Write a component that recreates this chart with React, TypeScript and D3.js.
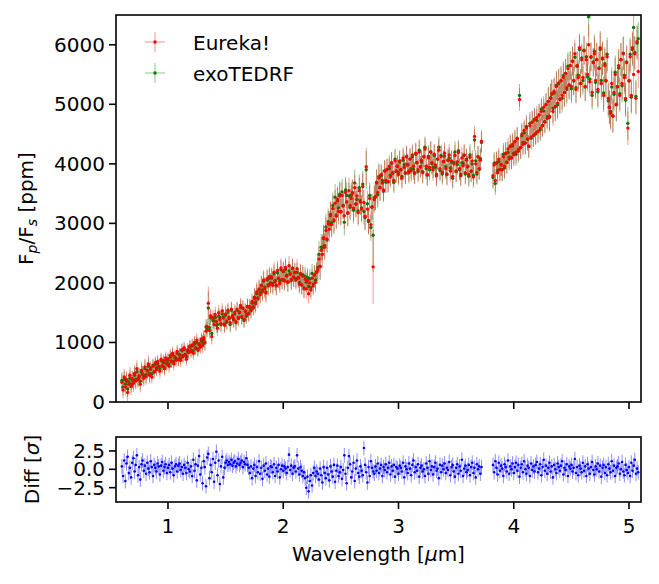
import React from "react";
import * as d3 from "d3";

// two detector segments, binned at 0.01 µm
const segStart = [0.6, 3.82];
const segCount = [313, 127];
const binHalfWidth = 0.005;

// planet-to-star flux, ppm
const eureka = [
  330, 200, 420, 250, 380, 160, 300, 450, 260, 390,
  310, 480, 350, 560, 380, 440, 300, 530, 470, 400,
  590, 430, 520, 640, 450, 570, 420, 600, 510, 660,
  540, 680, 600, 520, 720, 610, 690, 560, 740, 630,
  720, 600, 780, 680, 820, 640, 760, 700, 850, 710,
  800, 700, 880, 760, 910, 790, 720, 880, 830, 940,
  850, 960, 820, 1000, 900, 1040, 870, 980, 920, 1060,
  950, 1080, 1010, 1190, 1270, 1660, 1200, 1450, 1100, 1420,
  1300, 1470, 1350, 1240, 1500, 1380, 1320, 1530, 1410, 1290,
  1480, 1360, 1540, 1420, 1330, 1560, 1450, 1390, 1510, 1350,
  1560, 1420, 1510, 1620, 1440, 1580, 1390, 1530, 1470, 1610,
  1480, 1600, 1530, 1690, 1580, 1760, 1650, 1850, 1730, 1900,
  1800, 1960, 1850, 2050, 1900, 1830, 2070, 1950, 2110, 1980,
  2100, 1960, 2180, 2020, 1950, 2210, 2080, 1990, 2250, 2060,
  2200, 2030, 2260, 2110, 2020, 2290, 2150, 2060, 2240, 2100,
  2180, 2050, 2240, 2090, 1980, 2160, 1960, 2110, 1900, 2060,
  1900, 2040, 1820, 2000, 1880, 2080, 1950, 2140, 2010, 2180,
  2220, 2400, 2280, 2550, 2480, 2760, 2600, 2880, 2740, 2990,
  2900, 3150, 2980, 3250, 3060, 3340, 3120, 3400, 3200, 3460,
  3200, 3470, 3290, 3130, 3520, 3360, 3180, 3550, 3300, 3420,
  3500, 3260, 3600, 3330, 3460, 3180, 3550, 3380, 3240, 3620,
  3350, 3120, 3950, 3240, 3050, 3420, 2980, 3280, 2270, 3400,
  3450, 3680, 3520, 3760, 3600, 3820, 3680, 3560, 3880, 3720,
  3900, 3700, 3960, 3780, 4020, 3840, 3720, 4050, 3880, 3960,
  3820, 4050, 3900, 3760, 4100, 3940, 3850, 4120, 3980, 3880,
  4080, 3880, 4150, 3960, 3840, 4180, 4020, 3900, 4200, 3950,
  4060, 3850, 4120, 4250, 3960, 3820, 4100, 3940, 4200, 4020,
  3900, 4160, 3980, 3800, 4080, 4230, 3920, 4120, 3860, 4040,
  4180, 3920, 3830, 4060, 4150, 3880, 4050, 3790, 4000, 4140,
  3880, 4030, 4190, 3920, 3800, 4100, 3970, 4150, 3850, 4060,
  3950, 3820, 4110, 3880, 4050, 3780, 4460, 4000, 3860, 4120,
  3920, 4060, 4380,
  3800, 3980, 3720, 4020, 3850, 4080, 3900, 3990,
  3900, 4120, 3960, 4180, 4020, 4250, 4080, 4300, 4100, 4330,
  4150, 4380, 4200, 4420, 4240, 5080, 4280, 4500, 4330, 4560,
  4350, 4600, 4420, 4300, 4640, 4450, 4700, 4480, 4740, 4520,
  4780, 4540, 4820, 4600, 4880, 4650, 4950, 4700, 5000, 4760,
  5050, 4800, 5100, 5180, 4880, 5220, 4960, 5300, 5020, 5360,
  5080, 5400, 5150, 5450, 5200, 5520, 5280, 5600, 5330, 5650,
  5300, 5720, 5400, 5850, 5250, 5650, 5450, 5950, 5350, 5750,
  5450, 5900, 5300, 5750, 5500, 6000, 5380, 5800, 5200, 5700,
  5850, 5400, 5750, 5250, 5600, 5950, 5350, 5780, 5150, 5650,
  5400, 5800, 5100, 4950, 4850, 5350, 4800, 5200, 5500, 5000,
  5300, 5650, 5150, 5750, 5350, 5850, 5450, 5100, 5700, 4600,
  5400, 5800, 5150, 5950, 5500, 5850, 5100, 6050, 5550,
];

const exotedrf = [
  360, 250, 380, 300, 350, 220, 340, 400, 300, 370,
  350, 450, 380, 510, 400, 420, 350, 500, 460, 440,
  560, 460, 530, 600, 480, 550, 470, 620, 500, 630,
  570, 650, 590, 560, 690, 600, 660, 580, 700, 650,
  700, 640, 750, 690, 790, 680, 740, 730, 820, 720,
  790, 740, 860, 780, 880, 800, 760, 850, 840, 920,
  870, 940, 860, 970, 910, 1000, 890, 960, 940, 1030,
  1000, 1050, 990, 1260, 1220, 1580, 1250, 1410, 1150, 1370,
  1360, 1420, 1290, 1300, 1440, 1420, 1300, 1480, 1430, 1310,
  1460, 1340, 1510, 1400, 1300, 1540, 1420, 1380, 1480, 1330,
  1540, 1400, 1500, 1590, 1420, 1570, 1370, 1520, 1440, 1600,
  1490, 1590, 1550, 1660, 1600, 1740, 1680, 1820, 1750, 1880,
  1830, 1950, 1880, 2030, 1930, 1850, 2050, 1970, 2080, 2000,
  2080, 1990, 2150, 2040, 1960, 2170, 2070, 2030, 2220, 2050,
  2190, 2050, 2230, 2130, 2010, 2200, 2150, 2040, 2250, 2090,
  2170, 2070, 2180, 2080, 2010, 2140, 1970, 2140, 1920, 2110,
  2010, 2090, 1940, 2070, 1920, 2160, 1980, 2130, 2050, 2190,
  2260, 2480, 2270, 2600, 2600, 2740, 2630, 2940, 2720, 3030,
  2990, 3130, 3010, 3300, 3040, 3440, 3140, 3380, 3260, 3490,
  3190, 3530, 3300, 3020, 3560, 3470, 3170, 3460, 3270, 3470,
  3520, 3220, 3680, 3320, 3400, 3210, 3600, 3360, 3260, 3660,
  3200, 3100, 3900, 3330, 3030, 3470, 2930, 3270, 2800, 3430,
  3440, 3690, 3480, 3790, 3600, 3800, 3720, 3540, 3880, 3690,
  3910, 3700, 3920, 3810, 4010, 3850, 3690, 4080, 3870, 3960,
  3850, 4030, 3900, 3790, 4060, 3990, 3840, 4120, 3990, 3850,
  4080, 3920, 4120, 3910, 3850, 4160, 4020, 3870, 4230, 3950,
  4030, 3870, 4120, 4280, 3920, 3810, 4130, 3900, 4200, 4000,
  3940, 4140, 3940, 3820, 4080, 4280, 3890, 4140, 3830, 4040,
  4130, 3950, 3820, 4060, 4100, 3930, 4030, 3760, 4020, 4200,
  3870, 3990, 4220, 3900, 3820, 4020, 4010, 4140, 3830, 4080,
  3960, 3790, 4150, 3870, 4000, 3810, 4400, 4050, 3830, 4120,
  3910, 4090, 4360,
  3770, 4010, 3670, 4010, 3890, 4040, 3910, 3980,
  3900, 4160, 3930, 4170, 4030, 4190, 4110, 4290, 4100, 4300,
  4180, 4370, 4160, 4430, 4210, 5150, 4270, 4470, 4360, 4520,
  4350, 4630, 4410, 4290, 4680, 4430, 4700, 4470, 4750, 4500,
  4730, 4550, 4820, 4570, 4920, 4640, 4890, 4710, 4990, 4790,
  5050, 4780, 5110, 5170, 4930, 5190, 4960, 5320, 4990, 5350,
  5090, 5390, 5100, 5480, 5200, 5520, 5250, 5640, 5320, 5650,
  5260, 5730, 5390, 5790, 5280, 5640, 5490, 5920, 5350, 5780,
  5400, 5910, 5290, 5800, 5460, 6470, 5420, 5790, 5150, 5710,
  5890, 5370, 5750, 5210, 5610, 5920, 5400, 5760, 5190, 5680,
  5390, 5840, 5060, 4950, 4880, 5290, 4810, 5170, 5540, 4990,
  5290, 5610, 5180, 5750, 5310, 5860, 5490, 5070, 5710, 4680,
  5390, 5840, 5120, 5920, 6290, 5870, 5130, 6030, 6100,
];

// difference between reductions, in units of sigma
const diffSigma = [
  0.4, -0.9, 1.2, -1.6, 0.8, 1.7, -0.5, 0.2, -1.1, 0.9,
  1.5, -0.3, 0.6, 1.9, -0.8, 0.3, -1.4, 0.7, 1.2, -0.2,
  0.5, -0.6, 0.9, 0.1, -0.4, 1.1, 0.3, -0.9, 0.6, 0.2,
  -0.3, 0.8, 0.4, -0.7, 0.5, 1.0, -0.2, 0.3, 0.7, -0.5,
  0.2, 0.6, -0.4, 0.9, 0.1, -0.8, 0.4, 0.7, -0.3, 0.5,
  0.8, -0.1, 0.3, -0.6, 0.6, 0.2, -0.5, 0.9, 0.0, -0.3,
  0.4, -0.9, 1.3, -0.2, 0.7, -1.5, 0.5, 1.8, -0.7, 0.2,
  -1.9, 1.1, 0.3, -2.3, 1.6, 2.1, -1.2, 0.6, -0.4, 1.4,
  -1.7, 0.9, 2.4, -0.8, 1.2, -2.0, 0.4, 1.7, -1.1, 0.2,
  0.9, 1.2, 0.6, 1.0, 0.7, 1.3, 0.5, 0.9, 1.1, 0.4,
  0.8, 1.4, 0.6, 0.9, 1.2, 0.3, 1.0, 0.7, 1.5, 0.6,
  0.2, -0.5, 0.4, -1.2, 0.1, 0.6, -0.9, 0.3, -0.4, 1.1,
  -0.6, 0.2, -1.3, 0.5, -0.2, 0.8, -0.7, 0.1, -1.0, 0.4,
  0.3, -0.4, 0.7, -0.9, 0.2, -0.3, 0.6, -1.1, 0.0, 0.5,
  -0.2, 0.4, 0.1, -0.5, 0.3, 2.0, -0.1, 0.5, -0.6, 0.2,
  0.4, -0.3, 1.9, 0.1, -0.7, 0.3, -0.2, -0.9, -0.4, -1.2,
  -2.5, -1.0, -3.0, -1.6, -0.8, -2.2, -0.5, 0.2, -0.9, -0.3,
  -0.6, -1.4, 0.1, -0.8, -1.8, 0.3, -0.5, -1.2, 0.2, -0.7,
  -1.5, 0.4, -0.3, -1.0, 0.6, -1.7, -0.2, 0.5, -0.9, -0.4,
  0.3, -1.3, -0.1, 1.9, -0.6, -1.9, 0.2, 1.8, 0.7, -1.1,
  -0.3, 0.9, -1.6, 0.1, 1.2, -0.5, -1.0, 0.4, -0.2, -0.8,
  2.9, 0.6, -0.4, -1.8, 0.3, -0.9, 1.1, 0.2, -0.3, -0.6,
  0.4, -0.2, 0.8, -0.5, 0.1, 0.6, -0.9, 0.3, -0.1, 0.7,
  -0.4, 0.2, 0.9, -0.7, 0.4, -0.2, 0.6, -1.0, 0.3, 0.1,
  -0.6, 0.5, 0.2, -0.3, 0.9, -1.1, 0.4, 0.0, -0.5, 0.8,
  0.1, -0.8, 0.6, 1.2, -0.4, 0.3, -0.2, 0.7, -1.0, 0.2,
  0.5, -0.3, 0.0, -0.9, 0.8, 0.2, -0.6, 1.1, -0.1, 0.4,
  -0.7, 0.3, 0.9, -0.2, 0.1, -1.2, 0.6, -0.4, 0.5, 0.0,
  0.8, -0.5, 0.2, -0.1, 1.0, -0.8, 0.3, 0.6, -0.3, -1.0,
  0.2, 0.7, -0.6, 0.4, -0.2, 1.3, -0.9, 0.1, 0.5, -0.4,
  -0.1, 0.6, -0.8, 0.3, 0.9, -0.5, 0.2, -1.1, 0.7, 0.0,
  0.4, -0.6, 0.3,
  0.6, -0.4, 1.1, 0.2, -0.7, 0.9, -0.2, 0.5,
  0.1, -0.9, 0.7, 0.3, -0.3, 1.2, -0.6, 0.4, 0.0, 0.8,
  -0.5, 0.3, 0.9, -0.2, 0.6, -1.0, 0.2, 0.7, -0.4, 1.1,
  0.0, -0.6, 0.5, 0.2, -0.9, 0.8, -0.1, 0.4, -0.3, 0.6,
  1.0, -0.4, 0.1, 0.7, -0.8, 0.3, 1.3, -0.2, 0.5, -0.6,
  0.2, 0.9, -0.3, 0.4, -1.1, 0.6, 0.0, -0.5, 0.8, 0.3,
  -0.2, 0.5, 1.1, -0.7, 0.2, -0.1, 0.7, -0.9, 0.4, 0.1,
  0.6, -0.3, 0.2, 1.4, -0.5, 0.3, -0.8, 0.5, 0.1, -0.4,
  0.9, -0.2, 0.4, -0.9, 0.7, 0.1, -0.6, 0.3, 1.0, -0.1,
  -0.7, 0.4, 0.0, 0.8, -0.3, 0.5, -1.0, 0.2, 0.6, -0.5,
  0.3, -0.8, 0.7, 0.1, -0.4, 1.1, -0.2, 0.5, -0.9, 0.2,
  0.4, 0.8, -0.6, 0.0, 1.0, -0.3, -0.8, 0.6, -0.1, -0.5,
  0.3, -0.9, 0.9, -0.2, 0.5, 1.3, -0.6, 0.1, -0.4,
];

// 1-sigma uncertainty (ppm) from each wavelength onwards
const errFrom = [0.55, 0.85, 1.3, 1.75, 2.3, 2.85, 3.8, 4.3, 4.7];
const errPpm = [140, 110, 130, 160, 220, 180, 190, 240, 280];
// a few noisier bins
const noisyWave = [1.35, 2.72, 2.78, 4.65, 5.04];
const noisyErr = [280, 320, 620, 340, 360];
const diffErr = 1;

const fluxTicks = [0, 1000, 2000, 3000, 4000, 5000, 6000];
const diffTicks = [2.5, 0, -2.5];
const waveTicks = [1, 2, 3, 4, 5];

const W = 659;
const H = 584;
const left = 116;
const right = 641;
const top1 = 15;
const bottom1 = 402;
const top2 = 437;
const bottom2 = 502;
const font = "DejaVu Sans, Verdana, sans-serif";
const fs = 20;

const waves: number[] = [];
segStart.forEach((s, k) => {
  for (let i = 0; i < segCount[k]; i++) waves.push(Math.round((s + i * 0.01) * 100) / 100);
});

const errAt = (w: number) => {
  const j = noisyWave.findIndex((n) => Math.abs(n - w) < 0.001);
  if (j >= 0) return noisyErr[j];
  let e = errPpm[0];
  errFrom.forEach((f, i) => {
    if (w >= f - 1e-9) e = errPpm[i];
  });
  return e;
};

const x = d3.scaleLinear().domain([0.549, 5.104]).range([left, right]);
const yF = d3.scaleLinear().domain([0, 6500]).range([bottom1, top1]);
const yD = d3.scaleLinear().domain([-4.45, 4.4]).range([bottom2, top2]);

const fmtMinus = (v: number, digits: number) =>
  (v < 0 ? "\u2212" : "") + Math.abs(v).toFixed(digits);

function Series({
  vals,
  errs,
  y,
  color,
  r,
  opacity,
}: {
  vals: number[];
  errs: number[];
  y: d3.ScaleLinear<number, number>;
  color: string;
  r: number;
  opacity: number;
}) {
  const bars = vals
    .map((v, i) => {
      const w = waves[i];
      const px = x(w);
      const x1 = x(w - binHalfWidth);
      const x2 = x(w + binHalfWidth);
      return `M${px.toFixed(2)},${y(v - errs[i]).toFixed(2)}V${y(v + errs[i]).toFixed(2)}M${x1.toFixed(2)},${y(v).toFixed(2)}H${x2.toFixed(2)}`;
    })
    .join("");
  return (
    <g>
      <path d={bars} stroke={color} strokeOpacity={opacity} strokeWidth={1} fill="none" />
      {vals.map((v, i) => (
        <circle key={i} cx={x(waves[i])} cy={y(v)} r={r} fill={color} />
      ))}
    </g>
  );
}

function LegendEntry({ yPos, color, label }: { yPos: number; color: string; label: string }) {
  return (
    <g>
      <line x1={145} x2={165} y1={yPos} y2={yPos} stroke={color} strokeOpacity={0.45} />
      <line x1={155} x2={155} y1={yPos - 10} y2={yPos + 10} stroke={color} strokeOpacity={0.45} />
      <circle cx={155} cy={yPos} r={1.7} fill={color} />
      <text x={193} y={yPos + 8} fontSize={fs} fontFamily={font}>
        {label}
      </text>
    </g>
  );
}

export default function App() {
  const fluxErr = waves.map(errAt);
  const dErr = waves.map(() => diffErr);
  return (
    <svg
      width={W}
      height={H}
      style={{ position: "absolute", left: 0, top: 0, background: "#fff" }}
      fontFamily={font}
    >
      <defs>
        <clipPath id="clipTop">
          <rect x={left} y={top1} width={right - left} height={bottom1 - top1} />
        </clipPath>
        <clipPath id="clipBot">
          <rect x={left} y={top2} width={right - left} height={bottom2 - top2} />
        </clipPath>
      </defs>

      {/* spectrum panel */}
      <g clipPath="url(#clipTop)">
        <Series vals={exotedrf} errs={fluxErr} y={yF} color="#008000" r={1.7} opacity={0.45} />
        <Series vals={eureka} errs={fluxErr} y={yF} color="#ff0000" r={1.7} opacity={0.4} />
      </g>
      <rect x={left} y={top1} width={right - left} height={bottom1 - top1} fill="none" stroke="#000" strokeWidth={1.6} />
      {fluxTicks.map((t) => (
        <g key={t}>
          <line x1={left - 7} x2={left} y1={yF(t)} y2={yF(t)} stroke="#000" strokeWidth={1.6} />
          <text x={left - 11} y={yF(t) + 7} fontSize={fs} textAnchor="end">
            {t}
          </text>
        </g>
      ))}
      {waveTicks.map((t) => (
        <line key={t} x1={x(t)} x2={x(t)} y1={bottom1} y2={bottom1 + 7} stroke="#000" strokeWidth={1.6} />
      ))}
      <text transform={`translate(33,${(top1 + bottom1) / 2}) rotate(-90)`} fontSize={fs} textAnchor="middle">
        F
        <tspan fontSize={14} dy={4} fontStyle="italic">p</tspan>
        <tspan dy={-4}>/F</tspan>
        <tspan fontSize={14} dy={4} fontStyle="italic">s</tspan>
        <tspan dy={-4}> [ppm]</tspan>
      </text>

      <LegendEntry yPos={42} color="#ff0000" label="Eureka!" />
      <LegendEntry yPos={73} color="#008000" label="exoTEDRF" />

      {/* residual panel */}
      <g clipPath="url(#clipBot)">
        <Series vals={diffSigma} errs={dErr} y={yD} color="#0000ff" r={1.3} opacity={0.45} />
      </g>
      <rect x={left} y={top2} width={right - left} height={bottom2 - top2} fill="none" stroke="#000" strokeWidth={1.6} />
      {diffTicks.map((t) => (
        <g key={t}>
          <line x1={left - 7} x2={left} y1={yD(t)} y2={yD(t)} stroke="#000" strokeWidth={1.6} />
          <text x={left - 11} y={yD(t) + 7} fontSize={fs} textAnchor="end">
            {fmtMinus(t, 1)}
          </text>
        </g>
      ))}
      {waveTicks.map((t) => (
        <g key={t}>
          <line x1={x(t)} x2={x(t)} y1={bottom2} y2={bottom2 + 7} stroke="#000" strokeWidth={1.6} />
          <text x={x(t)} y={533} fontSize={fs} textAnchor="middle">
            {t}
          </text>
        </g>
      ))}
      <text transform={`translate(39,${(top2 + bottom2) / 2}) rotate(-90)`} fontSize={fs} textAnchor="middle">
        Diff [<tspan fontStyle="italic">σ</tspan>]
      </text>
      <text x={(left + right) / 2} y={561} fontSize={fs} textAnchor="middle">
        Wavelength [<tspan fontStyle="italic">μ</tspan>m]
      </text>
    </svg>
  );
}
